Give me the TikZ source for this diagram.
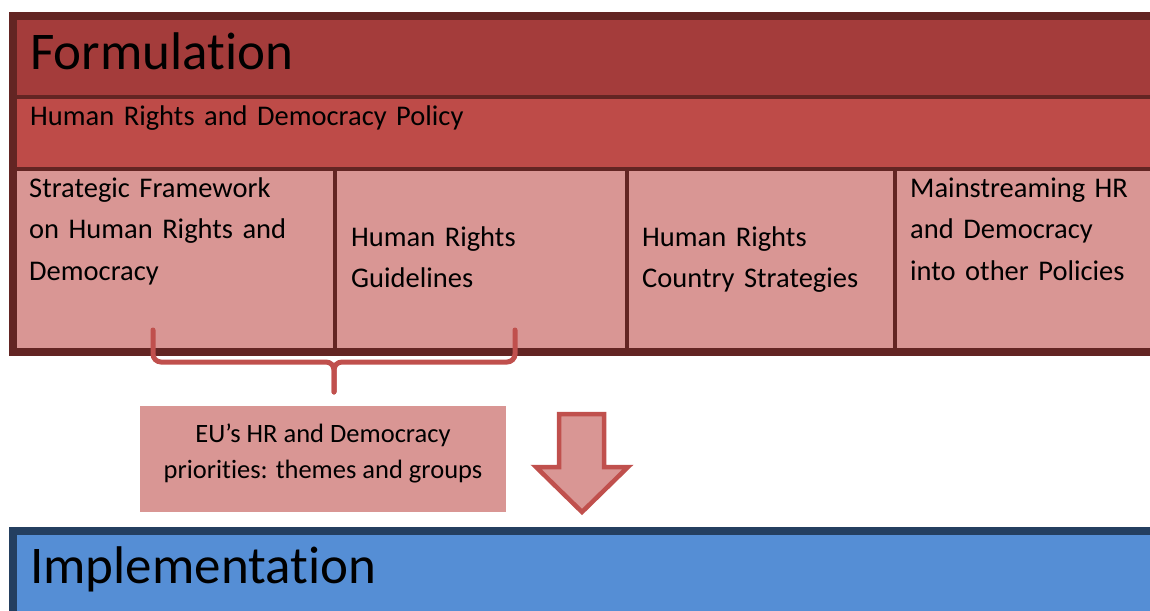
\documentclass[tikz,border=0pt]{standalone}
\usepackage{fontspec}
\setmainfont[Ligatures=NoCommon]{Carlito}
\usepackage{xcolor}
\usetikzlibrary{positioning}

\definecolor{frameRed}{HTML}{632523}
\definecolor{titleRed}{HTML}{A43C3B}
\definecolor{policyRed}{HTML}{BE4B48}
\definecolor{cellPink}{HTML}{D99694}
\definecolor{accentRed}{HTML}{C0504D}
\definecolor{frameBlue}{HTML}{243F60}
\definecolor{implBlue}{HTML}{558ED5}

\begin{document}
\begin{tikzpicture}[
    x=1pt, y=-1pt,
    node distance=4pt,
    band/.style={fill=#1, inner sep=0pt, outer sep=0pt, anchor=north west},
    cell/.style={band=cellPink, minimum height=177pt},
    heading/.style={inner sep=0pt, anchor=base west, font=\fontsize{53}{60}\selectfont},
    celltext/.style={inner sep=0pt, anchor=base west, align=left, text width=#1, font=\fontsize{28.5}{41.5}\selectfont},
    brace/.style={draw=accentRed, line width=5pt, rounded corners=8pt, line cap=round},
    flow/.style={draw=accentRed, fill=cellPink, line width=4.5pt, line join=miter}
]
\useasboundingbox (0,0) rectangle (1150,610);
\clip (0,0) rectangle (1150,610);

% formulation block
\node[band=frameRed, minimum width=1161pt, minimum height=344pt] (formframe) at (9,12) {};
\node[band=titleRed, minimum width=1153pt, minimum height=75pt] (title) at (17,20) {};
\node[band=policyRed, minimum width=1153pt, minimum height=68pt, below=of title.south west, anchor=north west] (policy) {};

\node[cell, minimum width=316pt, below=of policy.south west, anchor=north west] (strategic) {};
\node[cell, minimum width=288pt, right=of strategic] (guidelines) {};
\node[cell, minimum width=264pt, right=of guidelines] (country) {};
\node[cell, minimum width=273pt, right=of country] (mainstream) {};

\node[heading] at ([shift={(13pt,-50pt)}]title.north west) {Formulation};
\node[celltext=600pt] at ([shift={(13pt,-26pt)}]policy.north west) {Human Rights and Democracy Policy};
\node[celltext=300pt] at ([shift={(12pt,-26pt)}]strategic.north west) {Strategic Framework\\on Human Rights and\\Democracy};
\node[celltext=270pt] at ([shift={(14pt,-75pt)}]guidelines.north west) {Human Rights\\Guidelines};
\node[celltext=250pt] at ([shift={(13pt,-75pt)}]country.north west) {Human Rights\\Country Strategies};
\node[celltext=260pt] at ([shift={(13pt,-26pt)}]mainstream.north west) {Mainstreaming HR\\and Democracy\\into other Policies};

% brace under the first two cells
\coordinate (braceL) at (153,330);
\coordinate (braceR) at (515,330);
\coordinate (bracetip) at (334,392);
\draw[brace] (braceL) -- (153,362) -- (334,362) -- (bracetip);
\draw[brace] (braceR) -- (515,362) -- (334,362) -- (bracetip);

\node[band=cellPink, minimum width=366pt, minimum height=106pt] (priorities) at (140,406) {};
\node[inner sep=0pt, anchor=base, align=center, font=\fontsize{26.5}{36}\selectfont]
      at ([yshift=-72pt]priorities.north) {EU’s HR and Democracy\\priorities: themes and groups};

% down arrow
\draw[flow] (559,414) -- (604,414) -- (604,467) -- (628,467) -- (582,512)
            -- (536,467) -- (559,467) -- cycle;

% implementation block
\node[band=frameBlue, minimum width=1161pt, minimum height=100pt] (implframe) at (9,527) {};
\node[band=implBlue, minimum width=1153pt, minimum height=90pt] (impl) at (17,535) {};
\node[heading] at ([shift={(13pt,-48pt)}]impl.north west) {Implementation};

\end{tikzpicture}
\end{document}
